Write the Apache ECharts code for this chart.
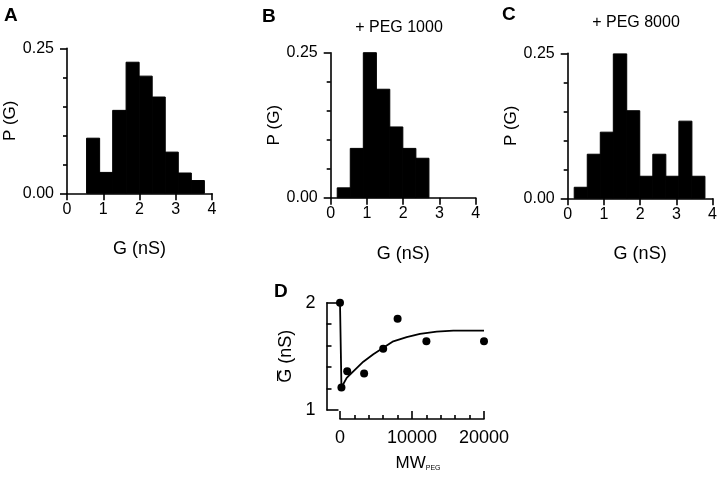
<!DOCTYPE html>
<html>
<head>
<meta charset="utf-8">
<script src="https://cdn.jsdelivr.net/npm/echarts@6/dist/echarts.min.js"></script>
<style>html,body{margin:0;padding:0;background:#fff}#chart{width:720px;height:481px}</style>
</head>
<body>
<div id="chart"></div>
<script>
// ---- Data ----
const G_EDGES = [0.18, 0.54, 0.90, 1.26, 1.63, 1.99, 2.35, 2.71, 3.07, 3.43, 3.79];
const P_A = [0, 0.095, 0.036, 0.143, 0.226, 0.202, 0.166, 0.071, 0.035, 0.022];
const P_B = [0.017, 0.085, 0.250, 0.187, 0.122, 0.085, 0.068, 0, 0, 0];
const P_C = [0.019, 0.076, 0.114, 0.249, 0.151, 0.038, 0.076, 0.038, 0.133, 0.038];
const HIST_X_TICKS = [0, 4];
const HIST_Y_TICKS = [0, 0.25];

const MW = [0, 200, 1000, 3350, 6000, 8000, 12000, 20000];
const G_MEAN = [2.00, 1.21, 1.36, 1.34, 1.57, 1.85, 1.64, 1.64];
const FIT_MW = [0, 200, 930, 1850, 3240, 4630, 6010, 7400, 9260, 11110, 13430, 15740, 20000];
const FIT_G = [2.00, 1.21, 1.30, 1.36, 1.45, 1.52, 1.58, 1.64, 1.68, 1.71, 1.73, 1.74, 1.74];

const FONT = "'Liberation Sans', Arial, Helvetica, sans-serif";
const chart = echarts.init(document.getElementById('chart'), null, {renderer: 'canvas'});

function histData(p) { return p.map((h, i) => [G_EDGES[i], G_EDGES[i + 1], h]); }
function histItem(params, api) {
  const h = api.value(2);
  if (!h) return null;
  const p0 = api.coord([api.value(0), h]);
  const p1 = api.coord([api.value(1), 0]);
  return {type: 'rect', shape: {x: p0[0], y: p0[1], width: p1[0] - p0[0], height: p1[1] - p0[1]},
          style: {fill: '#000', stroke: '#000', lineWidth: 1}};
}
const axisLine = {show: true, onZero: false, lineStyle: {color: '#000', width: 1.6}};
function histXAxis(i) {
  return {type: 'value', gridIndex: i, min: HIST_X_TICKS[0], max: HIST_X_TICKS[1], interval: 1,
    axisLine: axisLine, splitLine: {show: false},
    axisTick: {show: true, length: 7, lineStyle: {color: '#000', width: 1.6}},
    axisLabel: {color: '#000', fontSize: 16, fontFamily: FONT, margin: 8},
    name: 'G (nS)', nameLocation: 'middle', nameGap: 47,
    nameTextStyle: {color: '#000', fontSize: 18, fontFamily: FONT}};
}
function histYAxis(i) {
  return {type: 'value', gridIndex: i, min: HIST_Y_TICKS[0], max: HIST_Y_TICKS[1], interval: 0.25,
    axisLine: axisLine, splitLine: {show: false},
    axisTick: {show: true, length: 7, lineStyle: {color: '#000', width: 1.6}},
    minorTick: {show: true, splitNumber: 5, length: 4, lineStyle: {color: '#000', width: 1.6}},
    axisLabel: {color: '#000', fontSize: 16, fontFamily: FONT, margin: 13, formatter: v => v.toFixed(2)},
    name: 'P (G)', nameLocation: 'middle', nameGap: 42,
    nameTextStyle: {color: '#000', fontSize: 17, fontFamily: FONT}};
}

const option = {
  animation: false,
  backgroundColor: '#fff',
  grid: [
    {left: 67, top: 48.3, width: 145, height: 145},
    {left: 330.7, top: 52.7, width: 145, height: 145},
    {left: 567.7, top: 53.3, width: 145, height: 145},
    {left: 340, top: 302.7, width: 144, height: 107.3}
  ],
  xAxis: [histXAxis(0), histXAxis(1), histXAxis(2),
    {type: 'value', gridIndex: 3, min: 0, max: 20000, interval: 10000, offset: 9,
     axisLine: axisLine, splitLine: {show: false},
     axisTick: {show: true, inside: true, length: 8, lineStyle: {color: '#000', width: 1.6}},
     minorTick: {show: true, splitNumber: 5, length: 4, lineStyle: {color: '#000', width: 1.6}},
     axisLabel: {color: '#000', fontSize: 18, fontFamily: FONT, margin: 10, formatter: v => String(v)},
     name: 'MW{sub|PEG}', nameLocation: 'middle', nameGap: 36,
     nameTextStyle: {color: '#000', fontSize: 17, fontFamily: FONT, padding: [0, 0, 0, 12],
       rich: {sub: {fontSize: 7, fontFamily: FONT, color: '#000', padding: [9, 0, 0, 0]}}}}
  ],
  yAxis: [histYAxis(0), histYAxis(1), histYAxis(2),
    {type: 'value', gridIndex: 3, min: 1, max: 2, interval: 1, offset: 13.5,
     axisLine: axisLine, splitLine: {show: false},
     axisTick: {show: true, inside: true, length: 12, lineStyle: {color: '#000', width: 1.6}},
     minorTick: {show: true, splitNumber: 5, length: 5, lineStyle: {color: '#000', width: 1.6}},
     axisLabel: {color: '#000', fontSize: 18, fontFamily: FONT, margin: 11},
     name: 'G\u0305 (nS)', nameLocation: 'middle', nameGap: 31,
     nameTextStyle: {color: '#000', fontSize: 18, fontFamily: FONT}}
  ],
  series: [
    {type: 'custom', xAxisIndex: 0, yAxisIndex: 0, renderItem: histItem, encode: {x: [0, 1], y: 2}, data: histData(P_A)},
    {type: 'custom', xAxisIndex: 1, yAxisIndex: 1, renderItem: histItem, encode: {x: [0, 1], y: 2}, data: histData(P_B)},
    {type: 'custom', xAxisIndex: 2, yAxisIndex: 2, renderItem: histItem, encode: {x: [0, 1], y: 2}, data: histData(P_C)},
    {type: 'line', xAxisIndex: 3, yAxisIndex: 3, showSymbol: false, smooth: false,
     lineStyle: {color: '#000', width: 1.8}, data: FIT_MW.map((x, i) => [x, FIT_G[i]]), clip: false},
    {type: 'scatter', xAxisIndex: 3, yAxisIndex: 3, symbolSize: 8, itemStyle: {color: '#000', opacity: 1},
     data: MW.map((x, i) => [x, G_MEAN[i]]), clip: false}
  ],
  graphic: [
    {type: 'text', left: 4, top: 6, style: {text: 'A', font: 'bold 19px ' + FONT, fill: '#000'}},
    {type: 'text', left: 262, top: 7, style: {text: 'B', font: 'bold 19px ' + FONT, fill: '#000'}},
    {type: 'text', left: 502, top: 5, style: {text: 'C', font: 'bold 19px ' + FONT, fill: '#000'}},
    {type: 'text', left: 274, top: 282, style: {text: 'D', font: 'bold 19px ' + FONT, fill: '#000'}},
    {type: 'text', x: 399, y: 27.5, style: {text: '+ PEG 1000', font: '16px ' + FONT, fill: '#000', align: 'center', verticalAlign: 'middle'}},
    {type: 'text', x: 636, y: 22.5, style: {text: '+ PEG 8000', font: '16px ' + FONT, fill: '#000', align: 'center', verticalAlign: 'middle'}}
  ]
};
chart.setOption(option);
</script>
</body>
</html>
